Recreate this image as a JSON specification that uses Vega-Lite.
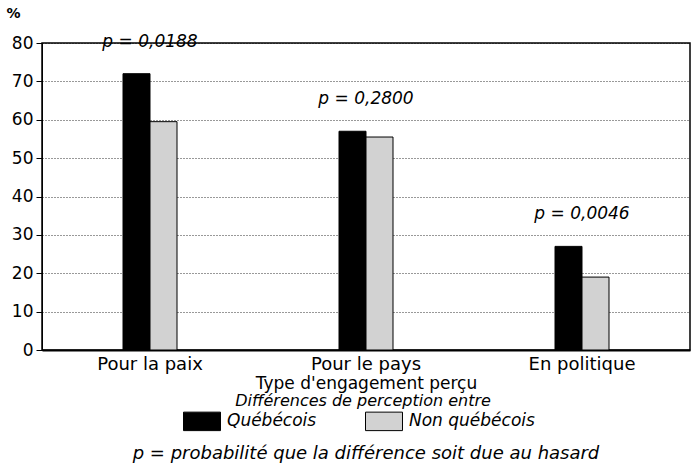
{
  "$schema": "https://vega.github.io/schema/vega-lite/v6.json",
  "autosize": {"type": "none"},
  "width": 648,
  "height": 307,
  "padding": {"left": 42, "top": 43, "right": 3, "bottom": 122},
  "background": "white",
  "data": {"values": [
    {"type": "Pour la paix", "series": "Québécois", "value": 72, "p": "p = 0,0188"},
    {"type": "Pour la paix", "series": "Non québécois", "value": 59.5, "p": "p = 0,0188"},
    {"type": "Pour le pays", "series": "Québécois", "value": 57, "p": "p = 0,2800"},
    {"type": "Pour le pays", "series": "Non québécois", "value": 55.5, "p": "p = 0,2800"},
    {"type": "En politique", "series": "Québécois", "value": 27, "p": "p = 0,0046"},
    {"type": "En politique", "series": "Non québécois", "value": 19, "p": "p = 0,0046"}
  ]},
  "title": {
    "text": "p = probabilité que la différence soit due au hasard",
    "orient": "bottom",
    "anchor": "middle",
    "fontSize": 18,
    "fontStyle": "italic",
    "fontWeight": "normal",
    "color": "black",
    "offset": 12
  },
  "encoding": {
    "x": {
      "field": "type", "type": "nominal",
      "sort": ["Pour la paix", "Pour le pays", "En politique"],
      "scale": {"paddingInner": 0.75, "paddingOuter": 0.375},
      "axis": {
        "labelAngle": 0, "labelFontSize": 18, "labelPadding": 5, "ticks": false,
        "domainWidth": 2, "domainColor": "black", "labelColor": "black",
        "title": "Type d'engagement perçu", "titleFontWeight": "normal",
        "titleFontSize": 17, "titleColor": "black", "titlePadding": 2
      }
    },
    "y": {
      "field": "value", "type": "quantitative",
      "scale": {"domain": [0, 80]},
      "axis": {
        "values": [0, 10, 20, 30, 40, 50, 60, 70, 80],
        "labelOverlap": false,
        "grid": true, "gridDash": [1, 2], "gridColor": "black", "gridOpacity": 0.8,
        "domainColor": "black", "tickColor": "black", "tickSize": 6,
        "labelFontSize": 17, "labelColor": "black", "labelPadding": 3,
        "title": "%", "titleAngle": 0, "titleX": -29, "titleY": -30,
        "titleAlign": "center", "titleBaseline": "middle",
        "titleFontSize": 14, "titleFontWeight": "bold", "titleColor": "black"
      }
    }
  },
  "layer": [
    {
      "mark": {"type": "bar", "stroke": "black", "strokeWidth": 1},
      "encoding": {
        "xOffset": {"field": "series", "type": "nominal", "sort": ["Québécois", "Non québécois"]},
        "color": {
          "field": "series", "type": "nominal",
          "sort": ["Québécois", "Non québécois"],
          "scale": {"domain": ["Québécois", "Non québécois"], "range": ["black", "#d2d2d2"]},
          "legend": {
            "title": "Différences de perception entre",
            "orient": "none", "legendX": 150, "legendY": 350,
            "direction": "horizontal", "titleAnchor": "middle", "titleLimit": 1000,
            "titleFontSize": 16, "titleFontStyle": "italic", "titleFontWeight": "normal",
            "titleColor": "black", "titlePadding": 2,
            "labelFontSize": 17, "labelFontStyle": "italic", "labelColor": "black", "labelLimit": 1000,
            "symbolType": "M-2,-1H2V1H-2Z", "symbolSize": 342,
            "symbolStrokeColor": "black", "symbolStrokeWidth": 1,
            "columnPadding": 46, "labelOffset": 15
          }
        }
      }
    },
    {
      "transform": [{"filter": "datum.series === 'Québécois'"}],
      "mark": {"type": "text", "dy": -32, "fontSize": 17, "fontStyle": "italic", "color": "black"},
      "encoding": {
        "text": {"field": "p"}
      }
    }
  ],
  "config": {
    "font": "DejaVu Sans",
    "view": {"stroke": "black", "strokeWidth": 1.5}
  }
}
